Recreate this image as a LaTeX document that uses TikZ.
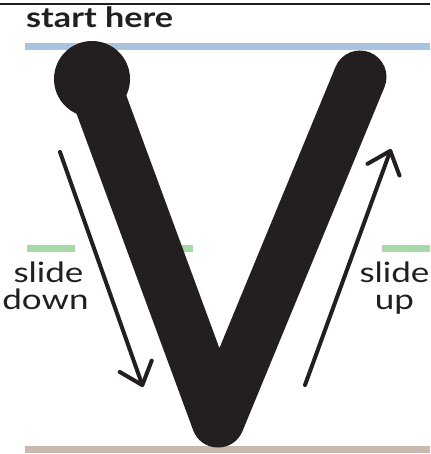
\documentclass[tikz,border=0pt]{standalone}
\usepackage{fontspec}
\setmainfont{Lato}
\newfontfamily\widefont[FakeStretch=1.25]{Lato}
\newfontfamily\titlefont[FakeStretch=1.22]{Lato}
\usetikzlibrary{arrows.meta}
\definecolor{ink}{HTML}{231F20}
\definecolor{guideblue}{HTML}{A8C4E0}
\definecolor{guidegreen}{HTML}{A6D8A8}
\definecolor{guidebrown}{HTML}{C9B8AD}
\tikzset{
  guide/.style={line width=7pt},
  vstroke/.style={ink, line width=53pt, line cap=round, line join=round},
  motion/.style={ink, line width=4pt, line cap=round,
    -{Straight Barb[length=20pt, width=34pt, line cap=round, line join=round]}},
  label/.style={font=\widefont\fontsize{28}{28}\selectfont, text=ink, inner sep=0pt},
}
\begin{document}
\begin{tikzpicture}[x=1pt, y=-1pt]
\useasboundingbox (0,0) rectangle (430,454);
% top rule
\draw[ink, line width=2.5pt] (0,4) -- (430,4);
\node[anchor=base west, inner sep=0pt, text=ink, font=\titlefont\bfseries\fontsize{28}{28}\selectfont] (title) at (26,28) {start here};
% guide lines
\draw[guide, guideblue] (25,46.5) -- (430,46.5);
\draw[guide, guidegreen] (27,248) -- (75,248);
\draw[guide, guidegreen] (140,248) -- (193,248);
\draw[guide, guidegreen] (382,248) -- (430,248);
\draw[guide, guidebrown] (25,449) -- (430,449);
% the V
\coordinate (vtop) at (92,79);
\coordinate (vbot) at (218,421);
\coordinate (vend) at (360,77);
\draw[vstroke] (vtop) -- (vbot) -- (vend);
\fill[ink] (vtop) circle[radius=38];
% motion arrows
\coordinate (ds) at (60,152);
\coordinate (de) at (143,387);
\coordinate (us) at (305,385);
\coordinate (ue) at (391,149);
\draw[motion] (ds) -- (de);
\draw[motion] (us) -- (ue);
% labels
\node[label, anchor=base] (sd1) at (48.5,282) {slide};
\node[label, anchor=base] (sd2) at (45.5,309) {down};
\node[label, anchor=base] (su1) at (394.5,282) {slide};
\node[label, anchor=base] (su2) at (394.5,309) {up};
\end{tikzpicture}
\end{document}
